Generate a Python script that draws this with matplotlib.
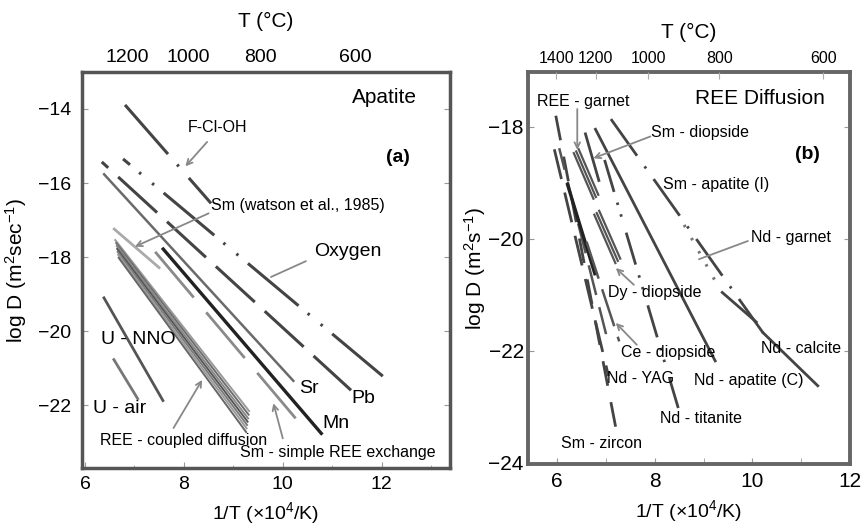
import matplotlib
matplotlib.use('Agg')
import matplotlib.pyplot as plt

plt.rcParams['font.family'] = ['Liberation Sans', 'DejaVu Sans']
plt.rcParams['lines.scale_dashes'] = False
plt.rcParams['mathtext.fontset'] = 'custom'
plt.rcParams['mathtext.rm'] = 'Liberation Sans'
plt.rcParams['mathtext.it'] = 'Liberation Sans'

# ---------------- Panel (a): Apatite ----------------
fcloh_x = [6.81, 8.55]; fcloh_y = [-13.89, -16.55]
oxy_x = [6.77, 12.04]; oxy_y = [-15.35, -21.24]
pb_x = [6.34, 11.38]; pb_y = [-15.43, -21.60]
sr_x = [6.37, 10.23]; sr_y = [-15.74, -21.37]
mn_x = [7.56, 10.80]; mn_y = [-17.75, -22.80]
smse_x = [7.42, 10.26]; smse_y = [-17.86, -22.36]
smw_x = [6.57, 7.52]; smw_y = [-17.22, -18.31]
unno_x = [6.37, 7.59]; unno_y = [-19.07, -21.91]
uair_x = [6.57, 7.08]; uair_y = [-20.74, -21.86]
ree_x0 = [6.60, 6.62, 6.63, 6.64, 6.65, 6.66, 6.67]
ree_y0 = [-17.52, -17.60, -17.68, -17.76, -17.84, -17.92, -18.00]
ree_x1 = [9.33, 9.32, 9.31, 9.30, 9.29, 9.28, 9.27]
ree_y1 = [-22.18, -22.28, -22.38, -22.47, -22.56, -22.65, -22.75]
ree_grays = ['#9a9a9a', '#6e6e6e', '#888888', '#555555', '#7a7a7a', '#9a9a9a', '#666666']

a_xticks = [6, 8, 10, 12]
a_yticks = [-14, -16, -18, -20, -22]
a_top_pos = [6.85, 8.08, 9.55, 11.47]
a_top_lab = ['1200', '1000', '800', '600']

# ---------------- Panel (b): REE diffusion ----------------
smap_x = [7.10, 10.22]; smap_y = [-17.86, -21.68]      # Sm - apatite (I)
ndap_x = [6.77, 9.25]; ndap_y = [-18.02, -22.20]       # Nd - apatite (C)
ndti_x = [6.97, 8.48]; ndti_y = [-18.59, -23.02]       # Nd - titanite
smdi_x = [6.57, 6.86]; smdi_y = [-18.10, -18.98]       # Sm - diopside
szr_x = [5.97, 7.25]; szr_y = [-17.80, -23.60]         # Sm - zircon
yag_x = [5.94, 7.05]; yag_y = [-18.40, -22.45]         # Nd - YAG
reeg2_x = [6.04, 7.00]; reeg2_y = [-18.38, -21.70]
dark_x = [6.20, 6.78]; dark_y = [-19.00, -20.65]
bund1_x0 = [6.33, 6.38, 6.43]; bund1_y0 = [-18.45, -18.42, -18.38]
bund1_x1 = [6.75, 6.80, 6.85]; bund1_y1 = [-19.30, -19.27, -19.23]
bund2_x0 = [6.75, 6.80, 6.85]; bund2_y0 = [-19.55, -19.52, -19.48]
bund2_x1 = [7.20, 7.25, 7.30]; bund2_y1 = [-20.45, -20.41, -20.37]
cedi_x = [6.60, 7.27]; cedi_y = [-20.05, -21.83]       # Ce - diopside
ndga_x = [8.60, 9.30]; ndga_y = [-19.75, -20.85]       # Nd - garnet (dotted)
ndca1_x = [9.36, 10.10]; ndca1_y = [-20.94, -21.50]
ndca2_x = [10.20, 11.36]; ndca2_y = [-21.66, -22.64]   # Nd - calcite

b_xticks = [6, 8, 10, 12]
b_yticks = [-18, -20, -22, -24]
b_top_pos = [5.98, 6.79, 7.86, 9.32, 11.45]
b_top_lab = ['1400', '1200', '1000', '800', '600']

fig = plt.figure(figsize=(8.64, 5.27), dpi=100)
axa = fig.add_axes([0.0949, 0.112, 0.4259, 0.7514])
axb = fig.add_axes([0.6111, 0.1195, 0.3727, 0.7438])

def line(ax, x, y, color='#555555', lw=2.0, ls='-'):
    ax.plot(x, y, color=color, lw=lw, linestyle=ls, solid_capstyle='butt', dash_capstyle='butt')

# ---- panel a lines
line(axa, fcloh_x, fcloh_y, '#444444', 2.2, (0, (47, 10, 1.8, 11)))
line(axa, oxy_x, oxy_y, '#444444', 2.2, (41, (47.5, 8.6, 1.8, 10.4, 1.8, 9)))
line(axa, pb_x, pb_y, '#444444', 2.2, (31.7, (38, 9.7)))
line(axa, sr_x, sr_y, '#6a6a6a', 1.8)
line(axa, mn_x, mn_y, '#222222', 2.4)
line(axa, smse_x, smse_y, '#8a8a8a', 2.0, (0, (43, 14)))
line(axa, smw_x, smw_y, '#aaaaaa', 2.0)
line(axa, unno_x, unno_y, '#555555', 2.0)
line(axa, uair_x, uair_y, '#777777', 2.0)
for x0, y0, x1, y1, c in zip(ree_x0, ree_y0, ree_x1, ree_y1, ree_grays):
    line(axa, [x0, x1], [y0, y1], c, 1.4)

arrow_kw = dict(arrowstyle='->', color='#888888', lw=1.3, shrinkA=0, shrinkB=0)
fs_a = 11.5
axa.text(12.05, -13.68, 'Apatite', fontsize=15, ha='center', va='center')
axa.text(12.33, -15.3, '(a)', fontsize=14, fontweight='bold', ha='center', va='center')
axa.text(8.68, -14.51, 'F-Cl-OH', fontsize=fs_a, ha='center', va='center')
axa.annotate('', xy=(8.03, -15.55), xytext=(8.47, -14.89), arrowprops=arrow_kw)
axa.text(8.55, -16.62, 'Sm (watson et al., 1985)', fontsize=fs_a, ha='left', va='center')
axa.annotate('', xy=(7.01, -17.72), xytext=(8.5, -16.82), arrowprops=arrow_kw)
axa.text(11.31, -17.86, 'Oxygen', fontsize=14, ha='center', va='center')
axa.annotate('', xy=(9.71, -18.57), xytext=(10.52, -18.08), arrowprops=dict(arrowstyle='-', color='#888888', lw=1.3))
axa.text(7.08, -20.24, 'U - NNO', fontsize=14, ha='center', va='center')
axa.text(6.71, -22.08, 'U - air', fontsize=14, ha='center', va='center')
axa.text(7.99, -22.95, 'REE - coupled diffusion', fontsize=fs_a, ha='center', va='center')
axa.annotate('', xy=(8.37, -21.32), xytext=(7.79, -22.62), arrowprops=arrow_kw)
axa.text(11.11, -23.27, 'Sm - simple REE exchange', fontsize=fs_a, ha='center', va='center')
axa.annotate('', xy=(9.81, -21.95), xytext=(10.0, -22.9), arrowprops=arrow_kw)
axa.text(10.52, -21.54, 'Sr', fontsize=14, ha='center', va='center')
axa.text(11.62, -21.81, 'Pb', fontsize=14, ha='center', va='center')
axa.text(11.07, -22.49, 'Mn', fontsize=14, ha='center', va='center')

axa.set_xlim(5.94, 13.38)
axa.set_ylim(-23.7, -13.0)
axa.set_xticks(a_xticks)
axa.set_xticks([7, 9, 11, 13], minor=True)
axa.set_yticks(a_yticks)
axa.tick_params(axis='both', which='both', direction='in', labelsize=14, color='#999999')
axa.tick_params(axis='y', pad=8, right=True, length=4)
axa.tick_params(axis='x', pad=6, length=4)
axa.set_xlabel('1/T (×10$^4$/K)', fontsize=14, labelpad=5)
axa.set_ylabel('log D (m$^2$sec$^{-1}$)', fontsize=15, labelpad=6)
for s in axa.spines.values():
    s.set_color('#555555'); s.set_linewidth(2.5)
ta = axa.twiny()
ta.set_xlim(axa.get_xlim())
ta.set_xticks(a_top_pos, a_top_lab)
ta.tick_params(axis='x', direction='in', length=0, labelsize=14, pad=4)
ta.set_xlabel('T (°C)', fontsize=15, labelpad=16)
for s in ta.spines.values():
    s.set_visible(False)

# ---- panel b lines
line(axb, smap_x, smap_y, '#444444', 2.0, (0, (32.4, 9.4, 1.8, 9.4)))
line(axb, ndap_x, ndap_y, '#444444', 2.0)
line(axb, ndti_x, ndti_y, '#444444', 2.0, (0, (24, 8, 1.8, 7, 1.8, 12)))
line(axb, smdi_x, smdi_y, '#444444', 2.0)
line(axb, szr_x, szr_y, '#444444', 2.0, (0, (18, 12)))
line(axb, yag_x, yag_y, '#444444', 2.0, (0, (22, 10)))
line(axb, reeg2_x, reeg2_y, '#555555', 1.8, (6, (22, 9)))
line(axb, dark_x, dark_y, '#222222', 2.4)
for x0, y0, x1, y1 in zip(bund1_x0, bund1_y0, bund1_x1, bund1_y1):
    line(axb, [x0, x1], [y0, y1], '#555555', 1.6)
for x0, y0, x1, y1 in zip(bund2_x0, bund2_y0, bund2_x1, bund2_y1):
    line(axb, [x0, x1], [y0, y1], '#555555', 1.6)
line(axb, cedi_x, cedi_y, '#555555', 1.8, (0, (28, 8)))
line(axb, ndga_x, ndga_y, '#777777', 2.2, (0, (1.8, 9)))
line(axb, ndca1_x, ndca1_y, '#444444', 2.0)
line(axb, ndca2_x, ndca2_y, '#444444', 2.0)

fs_b = 11.5
axb.text(10.16, -17.49, 'REE Diffusion', fontsize=15, ha='center', va='center')
axb.text(11.13, -18.5, '(b)', fontsize=14, fontweight='bold', ha='center', va='center')
axb.text(6.54, -17.55, 'REE - garnet', fontsize=fs_b, ha='center', va='center')
axb.annotate('', xy=(6.41, -18.41), xytext=(6.41, -17.68), arrowprops=arrow_kw)
axb.text(8.92, -18.1, 'Sm - diopside', fontsize=fs_b, ha='center', va='center')
axb.annotate('', xy=(6.74, -18.56), xytext=(7.91, -18.17), arrowprops=arrow_kw)
axb.text(9.25, -19.02, 'Sm - apatite (I)', fontsize=fs_b, ha='center', va='center')
axb.text(10.79, -19.97, 'Nd - garnet', fontsize=fs_b, ha='center', va='center')
axb.annotate('', xy=(8.85, -20.38), xytext=(9.96, -20.02), arrowprops=dict(arrowstyle='-', color='#888888', lw=1.3))
axb.text(8.0, -20.96, 'Dy - diopside', fontsize=fs_b, ha='center', va='center')
axb.annotate('', xy=(7.2, -20.52), xytext=(7.57, -20.82), arrowprops=arrow_kw)
axb.text(8.28, -22.03, 'Ce - diopside', fontsize=fs_b, ha='center', va='center')
axb.annotate('', xy=(7.2, -21.5), xytext=(7.63, -21.89), arrowprops=arrow_kw)
axb.text(11.0, -21.95, 'Nd - calcite', fontsize=fs_b, ha='center', va='center')
axb.text(7.71, -22.49, 'Nd - YAG', fontsize=fs_b, ha='center', va='center')
axb.text(9.92, -22.53, 'Nd - apatite (C)', fontsize=fs_b, ha='center', va='center')
axb.text(8.95, -23.2, 'Nd - titanite', fontsize=fs_b, ha='center', va='center')
axb.text(6.91, -23.65, 'Sm - zircon', fontsize=fs_b, ha='center', va='center')

axb.set_xlim(5.40, 12.0)
axb.set_ylim(-24.02, -17.02)
axb.set_xticks(b_xticks)
axb.set_xticks([7, 9, 11], minor=True)
axb.set_yticks(b_yticks)
axb.tick_params(axis='both', which='both', direction='in', labelsize=15, color='#999999', length=4)
axb.tick_params(axis='y', pad=3, right=True)
axb.tick_params(axis='x', pad=6)
axb.set_xlabel('1/T (×10$^4$/K)', fontsize=14, labelpad=5)
axb.set_ylabel('log D (m$^2$s$^{-1}$)', fontsize=15, labelpad=0)
for s in axb.spines.values():
    s.set_color('#666666'); s.set_linewidth(2.8)
tb = axb.twiny()
tb.set_xlim(axb.get_xlim())
tb.set_xticks(b_top_pos, b_top_lab)
tb.tick_params(axis='x', direction='in', length=5, color='#aaaaaa', labelsize=11.5, pad=4)
tb.set_xlabel('T (°C)', fontsize=15, labelpad=10)
for s in tb.spines.values():
    s.set_visible(False)

fig.savefig('out.png', dpi=100)
